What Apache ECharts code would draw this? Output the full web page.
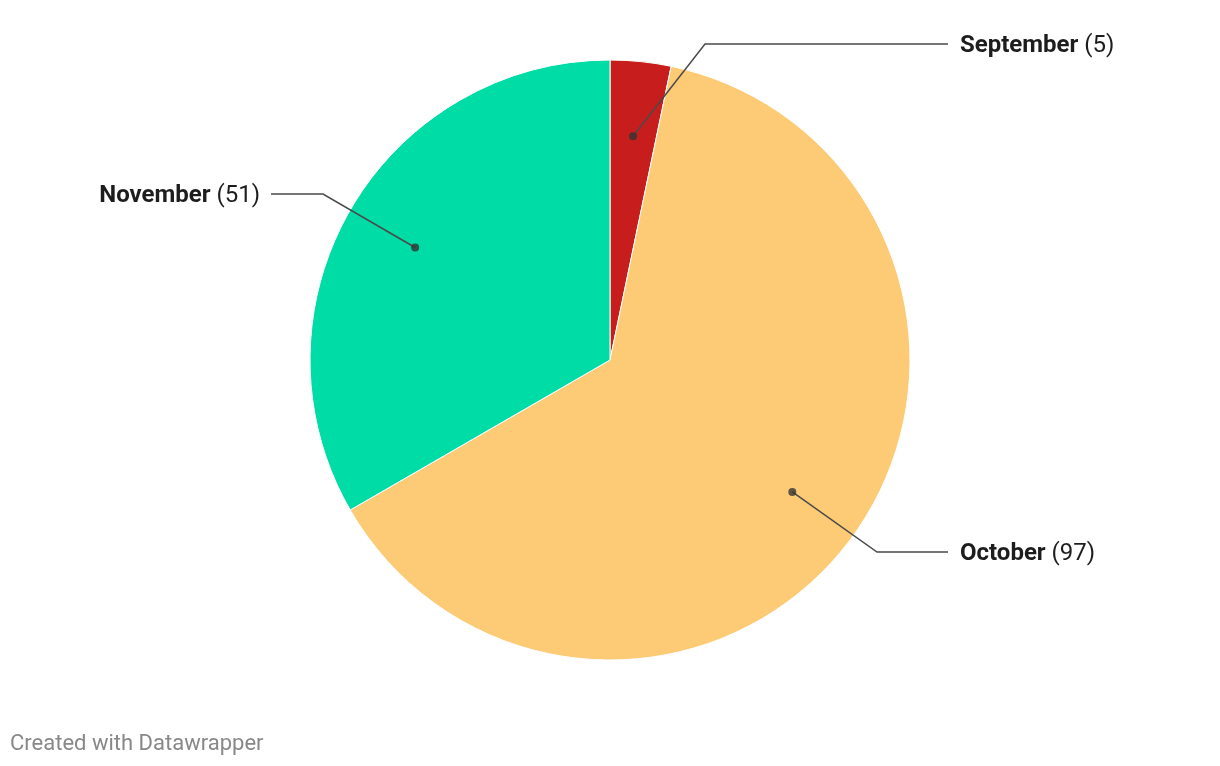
<!DOCTYPE html>
<html>
<head>
<meta charset="utf-8">
<script src="https://cdn.jsdelivr.net/npm/echarts@6/dist/echarts.min.js"></script>
<style>
  html, body { margin: 0; padding: 0; background: #fff; }
  #chart { width: 1220px; height: 766px; }
</style>
</head>
<body>
<div id="chart"></div>
<script>
// data
const months = ['September', 'October', 'November'];
const counts = [5, 97, 51];
const colors = ['#c71e1d', '#fdca76', '#00dca6'];

// where each label sits (y of the label row, x of the elbow and of the line end)
const labelSpots = {
  September: { y: 44, bendX: 705, endX: 948, side: 'right' },
  October: { y: 552, bendX: 877, endX: 948, side: 'right' },
  November: { y: 194, bendX: 323, endX: 271, side: 'left' }
};

const total = counts.reduce((a, b) => a + b, 0);
// dot positions: middle of each slice, at 75% of the radius
let acc = 0;
const dots = counts.map((c) => {
  const mid = acc + c / 2;
  acc += c;
  return [0.75, mid];
});

const center = [610, 360];
const radius = 300;

const chart = echarts.init(document.getElementById('chart'));
chart.setOption({
  animation: false,
  textStyle: { fontFamily: 'Roboto' },
  title: {
    text: 'Created with Datawrapper',
    left: 5,
    top: 728,
    textStyle: { fontFamily: 'Roboto', fontSize: 22, fontWeight: 'normal', color: '#888' }
  },
  polar: { center: center, radius: radius },
  angleAxis: { type: 'value', min: 0, max: total, startAngle: 90, clockwise: true, show: false },
  radiusAxis: { type: 'value', min: 0, max: 1, show: false },
  series: [
    {
      type: 'pie',
      z: 1,
      center: center,
      radius: radius,
      startAngle: 90,
      silent: true,
      label: { show: false },
      labelLine: { show: false },
      itemStyle: { borderColor: '#fff', borderWidth: 1 },
      data: months.map((m, i) => ({ name: m, value: counts[i], itemStyle: { color: colors[i] } }))
    },
    {
      // invisible ring whose label lines start at 75% radius
      type: 'pie',
      z: 3,
      center: center,
      radius: radius * 0.75,
      startAngle: 90,
      silent: true,
      avoidLabelOverlap: false,
      itemStyle: { color: 'rgba(0,0,0,0)' },
      label: {
        show: true,
        formatter: '{n|{b}}{s| }{v|({c})}',
        rich: {
          n: { fontFamily: 'Roboto', fontSize: 24, fontWeight: 'bold', color: '#1d1d1d' },
          s: { fontFamily: 'Roboto', fontSize: 24, color: '#1d1d1d' },
          v: { fontFamily: 'Roboto', fontSize: 24, color: '#1d1d1d' }
        }
      },
      labelLine: { show: true, length: 20, length2: 20, lineStyle: { color: '#4a4a4a', width: 1.5 } },
      labelLayout: function (params) {
        const spot = labelSpots[months[params.dataIndex]];
        const start = params.labelLinePoints[0];
        const right = spot.side === 'right';
        return {
          x: right ? spot.endX + 12 : spot.endX - 11,
          y: spot.y + 2,
          align: right ? 'left' : 'right',
          verticalAlign: 'middle',
          labelLinePoints: [start, [spot.bendX, spot.y], [spot.endX, spot.y]]
        };
      },
      data: months.map((m, i) => ({ name: m, value: counts[i] }))
    },
    {
      type: 'scatter',
      z: 4,
      coordinateSystem: 'polar',
      symbolSize: 8,
      silent: true,
      itemStyle: { color: '#333' },
      data: dots
    }
  ]
});
</script>
</body>
</html>
